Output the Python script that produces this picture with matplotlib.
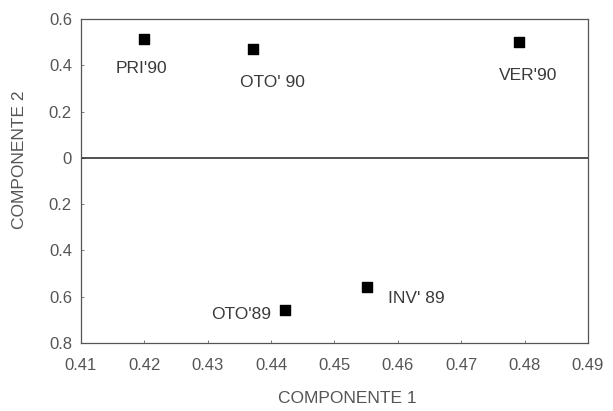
import matplotlib.pyplot as plt

# estaciones y coordenadas en las dos componentes
labels = ["PRI'90", "OTO' 90", "VER'90", "OTO'89", "INV' 89"]
comp1 = [0.4199, 0.4371, 0.4791, 0.4422, 0.4552]
comp2 = [0.513, 0.469, 0.502, -0.657, -0.556]

xticks = [0.41, 0.42, 0.43, 0.44, 0.45, 0.46, 0.47, 0.48, 0.49]
yticks = [0.6, 0.4, 0.2, 0, -0.2, -0.4, -0.6, -0.8]
ytick_labels = ["0.6", "0.4", "0.2", "0", "0.2", "0.4", "0.6", "0.8"]

# desplazamiento de cada etiqueta respecto al punto (en puntos)
offsets = [(-1.5, -21), (14, -24), (6.5, -24.5), (-31.5, -3), (35, -8.5)]

plt.rcParams['font.family'] = ['Liberation Sans', 'DejaVu Sans']
txt = '#3a3a3a'

fig = plt.figure(figsize=(6.13, 4.11), dpi=100)
ax = fig.add_axes([81/613, 1 - 343/411, (588-81)/613, (343-19)/411])

ax.scatter(comp1, comp2, marker='s', s=58, color='black', zorder=3)
for lab, x, y, off in zip(labels, comp1, comp2, offsets):
    ax.annotate(lab, (x, y), xytext=off, textcoords='offset points',
                ha='center', va='center', fontsize=12.5, color=txt)

ax.axhline(0, color='#222222', lw=1.1)

ax.set_xlim(0.41, 0.49)
ax.set_ylim(-0.8, 0.6)
ax.set_xticks(xticks)
ax.set_xticklabels([f'{t:.2f}' for t in xticks])
ax.set_yticks(yticks)
ax.set_yticklabels(ytick_labels)
ax.tick_params(direction='in', length=2, width=0.6, colors='#666666',
               labelcolor='#555555', labelsize=12)
ax.tick_params(axis='x', pad=11)
ax.tick_params(axis='y', pad=6.5)

for s in ax.spines.values():
    s.set_color('#555555')
    s.set_linewidth(0.9)

ax.set_xlabel('COMPONENTE 1', fontsize=12.5, color='#555555')
ax.set_ylabel('COMPONENTE 2', fontsize=12.5, color='#555555')
ax.xaxis.set_label_coords((347-81)/(588-81), -(391-343)/324)
ax.yaxis.set_label_coords(-(81-27)/507, (343-160)/324)

fig.savefig('out.png', dpi=100)
